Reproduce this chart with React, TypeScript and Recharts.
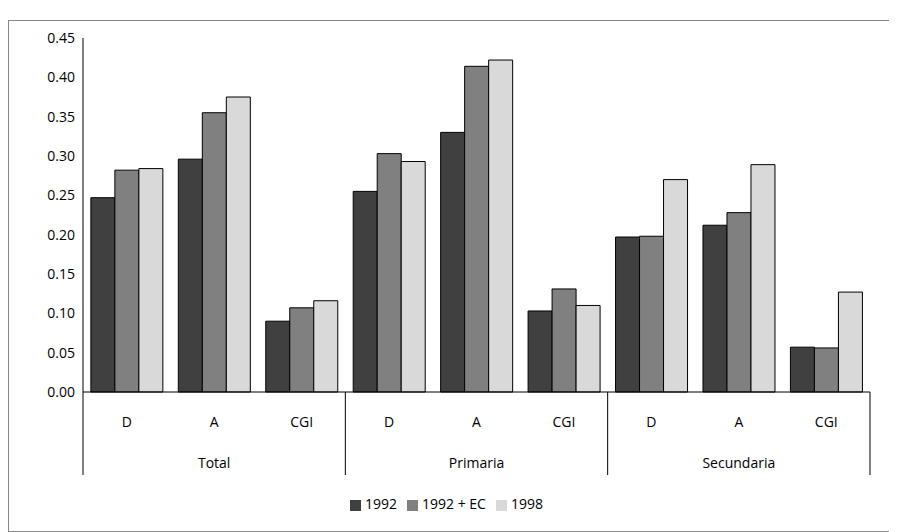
import { BarChart, Bar, XAxis, YAxis, Legend } from 'recharts';

const categories = ['D', 'A', 'CGI', 'D', 'A', 'CGI', 'D', 'A', 'CGI'];
const groups = ['Total', 'Primaria', 'Secundaria'];
const s1992 = [0.247, 0.296, 0.09, 0.255, 0.33, 0.103, 0.197, 0.212, 0.057];
const s1992ec = [0.282, 0.355, 0.107, 0.303, 0.414, 0.131, 0.198, 0.228, 0.056];
const s1998 = [0.284, 0.375, 0.116, 0.293, 0.422, 0.11, 0.27, 0.289, 0.127];
const yTicks = [0, 0.05, 0.1, 0.15, 0.2, 0.25, 0.3, 0.35, 0.4, 0.45];

const data = categories.map((c, i) => ({
  cat: c,
  a: s1992[i],
  b: s1992ec[i],
  c: s1998[i],
}));

const W = 887;
const H = 510;
const M = { top: 17, right: 26, left: 24, bottom: 18 };
const Y_W = 50;
const BAND = (W - M.left - M.right - Y_W) / categories.length;
const FONT = '"Open Sans", sans-serif';

const CatTick = (props: any) => {
  const { x, y, payload, index } = props;
  const g = Math.floor(index / 3);
  return (
    <g>
      <text x={x} y={y + 27} textAnchor="middle" fontSize={14} fill="#000" fontFamily={FONT}>
        {payload.value}
      </text>
      {index % 3 === 0 && (
        <line x1={x - BAND / 2} x2={x - BAND / 2} y1={y - 8} y2={y + 75} stroke="#000" />
      )}
      {index === categories.length - 1 && (
        <line x1={x + BAND / 2} x2={x + BAND / 2} y1={y - 8} y2={y + 75} stroke="#000" />
      )}
      {index % 3 === 1 && (
        <text x={x} y={y + 68} textAnchor="middle" fontSize={14} fill="#000" fontFamily={FONT}>
          {groups[g]}
        </text>
      )}
    </g>
  );
};

export default function App() {
  return (
    <div style={{ marginTop: 12, width: W, height: H, border: '1px solid #888', background: '#fff' }}>
      <BarChart width={W} height={H} data={data} margin={M} barCategoryGap="9%" barGap={0}>
        <YAxis
          width={Y_W}
          domain={[0, 0.45]}
          ticks={yTicks}
          tickFormatter={(v: number) => v.toFixed(2)}
          tickLine={false}
          axisLine={{ stroke: '#000' }}
          tick={{ fontSize: 14, fill: '#000', fontFamily: FONT }}
        />
        <XAxis
          dataKey="cat"
          interval={0}
          height={102}
          tickLine={false}
          axisLine={{ stroke: '#000' }}
          tick={<CatTick />}
        />
        <Legend
          verticalAlign="bottom"
          iconType="square"
          iconSize={11}
          wrapperStyle={{ fontSize: 14, fontFamily: FONT, color: '#000' }}
          formatter={(v: string) => <span style={{ color: '#000' }}>{v}</span>}
        />
        <Bar dataKey="a" name="1992" fill="#404040" stroke="#000" isAnimationActive={false} />
        <Bar dataKey="b" name="1992 + EC" fill="#808080" stroke="#000" isAnimationActive={false} />
        <Bar dataKey="c" name="1998" fill="#d9d9d9" stroke="#000" isAnimationActive={false} />
      </BarChart>
    </div>
  );
}
